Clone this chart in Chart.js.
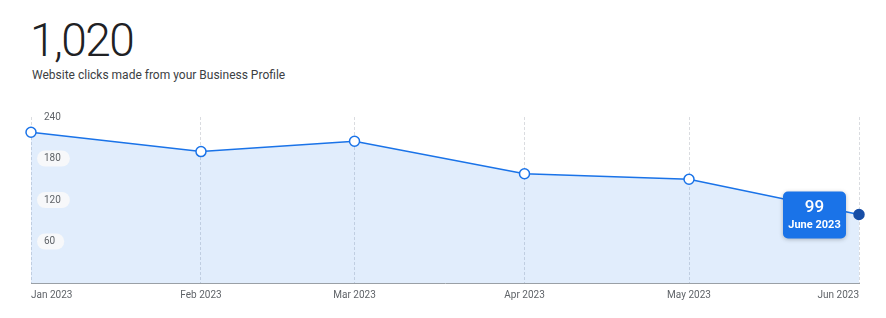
<!DOCTYPE html>
<html>
<head>
<meta charset="UTF-8">
<script src="https://cdn.jsdelivr.net/npm/chart.js@4"></script>
<style>
  html, body { margin: 0; padding: 0; background: #fff; }
  body { width: 886px; height: 318px; position: relative; overflow: hidden; font-family: Roboto, sans-serif; }
  #total { position: absolute; left: 30px; top: 12px; font-size: 46px; font-weight: 300; color: #202124; line-height: 56px; letter-spacing: -1.5px; }
  #caption { position: absolute; left: 32px; top: 67px; font-size: 12px; color: #3c4043; line-height: 16px; }
  #clicksChart { position: absolute; left: 0; top: 0; }
</style>
</head>
<body>
<div id="total">1,020</div>
<div id="caption">Website clicks made from your Business Profile</div>
<canvas id="clicksChart" width="886" height="318"></canvas>
<script>
// --- data ---
const months = ['Jan 2023', 'Feb 2023', 'Mar 2023', 'Apr 2023', 'May 2023', 'Jun 2023'];
const monthNames = ['January 2023', 'February 2023', 'March 2023', 'April 2023', 'May 2023', 'June 2023'];
const dayOffsets = [0, 31, 59, 90, 120, 151];   // days since Jan 1
const clicks = [218, 190, 205, 158, 150, 99];
const yTicks = [60, 120, 180, 240];
const activeIndex = 5;

const BLUE = '#1a73e8';
const DARK_BLUE = '#174ea6';

function roundRect(ctx, x, y, w, h, r) {
    ctx.beginPath();
    ctx.moveTo(x + r, y);
    ctx.arcTo(x + w, y, x + w, y + h, r);
    ctx.arcTo(x + w, y + h, x, y + h, r);
    ctx.arcTo(x, y + h, x, y, r);
    ctx.arcTo(x, y, x + w, y, r);
    ctx.closePath();
}

// y labels drawn inside the plot, with pill backgrounds (not for the top one)
const yLabelPlugin = {
    id: 'yLabels',
    afterDatasetsDraw(chart) {
        const { ctx } = chart;
        const y = chart.scales.y;
        const left = chart.chartArea.left;
        ctx.save();
        ctx.font = '10px Roboto';
        ctx.textBaseline = 'middle';
        y.ticks.forEach(t => {
            const py = y.getPixelForValue(t.value);
            const txt = String(t.value);
            const w = ctx.measureText(txt).width;
            if (t.value !== y.max) {
                ctx.fillStyle = 'rgba(248,249,250,0.95)';
                roundRect(ctx, left + 6, py - 8, w + 16, 16, 8);
                ctx.fill();
            }
            ctx.fillStyle = '#5f6368';
            ctx.fillText(txt, left + 13, py);
        });
        ctx.restore();
    }
};

// always-on tooltip box left of the active point
const badgePlugin = {
    id: 'badge',
    afterDatasetsDraw(chart) {
        const { ctx } = chart;
        const pt = chart.getDatasetMeta(0).data[activeIndex];
        const w = 63, h = 47;
        const bx = pt.x - 76, by = pt.y - 23;
        ctx.save();
        ctx.shadowColor = 'rgba(0,0,0,0.25)';
        ctx.shadowBlur = 4;
        ctx.shadowOffsetY = 1;
        ctx.fillStyle = BLUE;
        roundRect(ctx, bx, by, w, h, 5);
        ctx.fill();
        ctx.shadowColor = 'transparent';
        ctx.fillStyle = '#fff';
        ctx.textAlign = 'center';
        ctx.textBaseline = 'middle';
        ctx.font = '500 17px Roboto';
        ctx.fillText(String(clicks[activeIndex]), bx + w / 2, by + 16);
        ctx.font = 'bold 11px Roboto';
        ctx.fillText(monthNames[activeIndex], bx + w / 2, by + 34);
        ctx.restore();
    }
};

new Chart(document.getElementById('clicksChart'), {
    type: 'line',
    data: {
        datasets: [{
            data: dayOffsets.map((d, i) => ({ x: d, y: clicks[i] })),
            borderColor: BLUE,
            borderWidth: 1.5,
            backgroundColor: 'rgba(26,115,232,0.13)',
            fill: 'origin',
            tension: 0,
            pointRadius: 5,
            pointBorderWidth: 1.5,
            pointBackgroundColor: clicks.map((_, i) => i === activeIndex ? DARK_BLUE : '#fff'),
            pointBorderColor: clicks.map((_, i) => i === activeIndex ? DARK_BLUE : BLUE),
            clip: false
        }]
    },
    options: {
        responsive: false,
        animation: false,
        devicePixelRatio: 1,
        layout: { padding: { left: 31, right: 27, top: 117, bottom: 11 } },
        plugins: { legend: { display: false }, tooltip: { enabled: false } },
        scales: {
            x: {
                type: 'linear',
                min: dayOffsets[0],
                max: dayOffsets[dayOffsets.length - 1],
                afterBuildTicks: s => { s.ticks = dayOffsets.map(v => ({ value: v })); },
                ticks: {
                    callback: (v, i) => months[i],
                    align: 'inner',
                    maxRotation: 0,
                    autoSkip: false,
                    padding: 6,
                    color: '#5f6368',
                    font: { family: 'Roboto', size: 10 }
                },
                grid: { color: '#dadce0', lineWidth: 1, drawTicks: false },
                border: { display: true, color: '#9aa0a6', width: 1, dash: [3, 2] }
            },
            y: {
                display: false,
                min: 0,
                max: 240,
                afterBuildTicks: s => { s.ticks = yTicks.map(v => ({ value: v })); }
            }
        }
    },
    plugins: [yLabelPlugin, badgePlugin]
});
</script>
</body>
</html>
